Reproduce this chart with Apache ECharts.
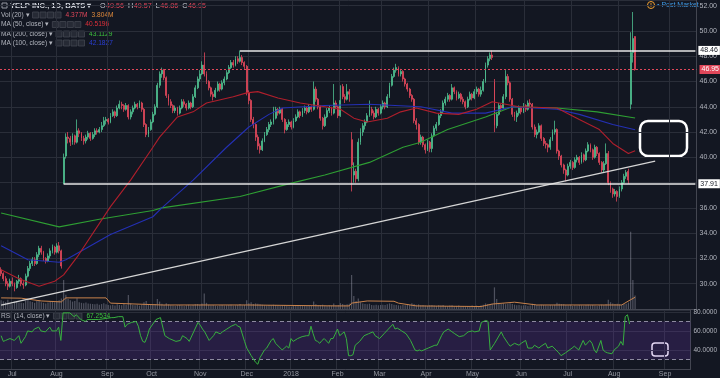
<!DOCTYPE html>
<html>
<head>
<meta charset="utf-8">
<script src="https://cdn.jsdelivr.net/npm/echarts@6/dist/echarts.min.js"></script>
<style>
html, body { margin: 0; padding: 0; background: #131722; }
#chart { width: 720px; height: 378px; }
</style>
</head>
<body>
<div id="chart"></div>
<script>
// daily candles, one row per trading day from 2017-06-26: [open, close, low, high]
const candles = [
  [31.1,30.8,30.6,31.3],[30.8,30.4,30.2,30.9],[30.4,30.0,29.8,30.6],[30.0,29.8,29.5,30.2],[29.8,30.2,29.7,30.4],
  [30.2,30.0,29.8,30.5],[30.0,29.7,29.4,30.1],[29.7,30.2,29.6,30.3],[30.2,30.4,30.0,30.7],[30.4,30.0,29.8,30.5],
  [30.0,29.9,29.6,30.2],[29.9,30.6,29.8,30.8],[30.6,31.2,30.5,31.4],[31.2,31.6,31.0,31.8],[31.6,31.9,31.4,32.1],
  [31.9,31.6,31.4,32.1],[31.6,32.3,31.5,32.5],[32.3,32.8,32.1,33.0],[32.8,32.5,32.3,33.0],[32.5,32.0,31.8,32.6],
  [32.0,31.8,31.6,32.1],[31.8,32.2,31.7,32.4],[32.2,32.6,32.0,32.8],[32.6,32.9,32.4,33.1],[32.9,32.5,32.3,33.0],
  [32.5,33.0,32.4,33.2],[33.0,32.6,32.4,33.3],[32.6,31.4,31.2,32.7],[37.91,40.0,37.91,40.3],[40.1,41.6,39.9,41.9],
  [41.6,41.5,41.1,42.0],[41.5,41.2,40.9,41.7],[41.2,41.7,41.0,41.9],[41.7,41.2,41.0,41.8],[41.2,42.1,41.1,43.0],
  [42.1,41.9,41.6,42.3],[41.9,41.5,41.3,42.0],[41.5,41.3,41.0,41.7],[41.3,41.6,41.1,41.8],[41.6,41.9,41.4,42.1],
  [41.9,41.5,41.3,42.0],[41.5,41.8,41.4,42.0],[41.8,42.1,41.6,42.3],[42.1,42.0,41.8,42.3],[42.0,42.2,41.9,42.4],
  [42.2,42.5,42.0,42.8],[42.5,42.9,42.4,43.2],[42.9,43.0,42.6,43.2],[43.0,42.8,42.6,43.1],[42.8,43.3,42.7,43.5],
  [43.3,43.6,43.2,43.8],[43.6,43.3,43.1,43.7],[43.3,43.9,43.2,44.1],[43.9,44.2,43.8,44.5],[44.2,44.1,43.8,44.4],
  [44.1,43.8,43.6,44.2],[43.8,44.1,43.7,44.3],[44.1,43.2,43.0,44.2],[43.2,43.6,43.0,43.8],[43.6,43.9,43.4,44.1],
  [43.9,44.2,43.8,44.4],[44.2,44.0,43.8,44.3],[44.0,44.3,43.9,44.5],[44.3,43.8,43.6,44.4],[43.8,42.6,42.4,43.9],
  [42.6,41.8,41.6,42.7],[41.8,42.2,41.6,42.4],[42.2,42.8,42.1,43.0],[42.8,43.4,42.7,43.6],[43.4,44.0,43.3,44.2],
  [44.0,45.7,43.9,45.9],[45.7,46.6,45.5,46.8],[46.6,46.9,46.3,47.1],[46.9,46.3,46.1,47.0],[46.3,44.9,44.7,46.4],
  [44.9,44.4,44.1,45.0],[44.4,44.1,43.9,44.6],[44.1,43.7,43.5,44.2],[43.7,43.9,43.5,44.1],[43.9,43.5,43.3,44.0],
  [43.5,43.9,43.4,44.1],[43.9,44.4,43.8,44.6],[44.4,44.2,44.0,44.6],[44.2,43.9,43.7,44.3],[43.9,44.3,43.8,44.5],
  [44.3,44.0,43.8,44.4],[44.0,44.8,43.9,45.0],[44.8,45.5,44.7,45.7],[45.5,46.2,45.4,46.4],[46.2,46.6,46.0,46.9],
  [46.6,47.3,46.5,47.6],[47.3,46.6,46.4,48.3],[46.6,46.0,45.8,46.8],[46.0,45.5,45.3,46.1],[45.5,45.0,44.8,45.6],
  [45.0,44.8,44.5,45.2],[44.8,45.3,44.7,45.5],[45.3,45.8,45.2,46.0],[45.8,45.4,45.2,45.9],[45.4,45.9,45.3,46.1],
  [45.9,46.2,45.7,46.4],[46.2,46.7,46.1,46.9],[46.7,47.1,46.6,47.3],[47.1,47.5,47.0,47.7],[47.5,47.3,47.1,47.7],
  [47.3,47.8,47.2,48.0],[47.8,47.6,47.4,48.0],[47.6,47.9,47.5,48.46],[47.9,47.5,47.3,48.1],[47.5,47.2,47.0,47.6],
  [47.2,45.1,44.9,47.3],[45.1,44.5,44.2,45.3],[44.5,43.0,42.8,44.6],[43.0,42.6,42.3,43.2],[42.6,41.6,41.3,42.7],
  [41.6,40.9,40.6,41.8],[40.9,40.6,40.3,41.1],[40.6,41.3,40.5,41.5],[41.3,41.8,41.2,42.0],[41.8,42.2,41.7,42.4],
  [42.2,42.6,42.0,42.8],[42.6,42.8,42.4,43.0],[42.8,43.1,42.6,44.0],[43.1,43.8,43.0,44.0],[43.8,43.5,43.3,43.9],
  [43.5,43.8,43.4,44.0],[43.8,43.0,42.8,43.9],[43.0,42.2,41.9,43.1],[42.2,42.6,42.1,42.8],[42.6,42.8,42.4,43.0],
  [42.8,42.4,42.2,42.9],[42.4,42.9,42.3,43.1],[42.9,43.2,42.8,43.4],[43.2,43.6,43.1,43.8],[43.6,43.3,43.1,43.7],
  [43.3,43.7,43.2,43.9],[43.7,43.9,43.5,44.1],[43.9,43.6,43.4,44.0],[43.6,44.0,43.5,44.2],[44.0,43.8,43.6,44.1],
  [43.8,45.4,43.7,46.0],[45.4,44.6,44.4,45.6],[44.6,44.0,43.8,44.7],[44.0,43.1,42.9,44.1],[43.1,42.5,42.2,43.2],
  [42.5,43.2,42.4,43.4],[43.2,43.7,43.1,43.9],[43.7,43.9,43.5,44.1],[43.9,43.5,43.3,44.0],[43.5,44.3,43.4,45.8],
  [44.3,44.0,43.8,44.5],[44.0,43.3,43.1,44.1],[43.3,44.5,43.2,45.7],[45.6,44.8,44.6,45.8],[44.8,44.6,44.3,45.0],
  [44.6,45.2,44.5,45.8],[45.2,45.0,44.4,45.4],[41.4,39.4,37.3,42.0],[38.6,38.9,38.0,39.6],[38.9,38.3,38.0,39.1],
  [38.3,41.2,38.1,41.5],[41.2,42.0,41.0,42.3],[42.0,42.5,41.7,42.7],[42.5,42.8,42.2,43.0],[42.8,43.3,42.7,43.5],
  [43.3,43.8,43.2,44.5],[43.8,43.5,43.3,44.0],[43.5,43.2,43.0,43.7],[43.2,43.8,43.1,44.0],[43.8,43.5,43.3,43.9],
  [43.5,44.0,43.4,44.2],[44.0,44.3,43.8,44.5],[44.3,44.0,43.8,44.4],[44.0,44.8,43.9,45.0],[44.8,45.7,44.7,45.9],
  [45.7,46.4,45.6,46.6],[46.4,46.9,46.3,47.1],[46.9,47.1,46.7,47.4],[47.1,46.6,46.4,47.2],[46.6,46.8,46.4,47.0],
  [46.8,46.2,46.0,46.9],[46.2,45.8,45.6,46.3],[45.8,45.4,45.2,45.9],[45.4,44.9,44.7,45.5],[44.9,44.6,44.4,45.0],
  [44.6,42.9,42.7,44.7],[42.9,42.6,42.2,43.1],[42.6,41.2,41.0,42.7],[41.2,41.6,41.0,41.8],[41.6,41.0,40.8,41.7],
  [41.0,40.6,40.3,41.1],[40.6,41.2,40.5,41.4],[41.2,40.7,40.4,41.3],[40.7,41.7,40.4,41.9],[41.7,42.3,41.6,42.5],
  [42.3,42.6,42.1,42.8],[42.6,43.3,42.5,43.5],[43.3,43.6,43.1,43.8],[43.6,44.3,43.5,44.5],[44.3,44.6,44.1,44.8],
  [44.6,44.9,44.4,45.1],[44.9,44.6,44.4,45.0],[44.6,45.5,44.5,45.8],[45.5,45.2,45.0,45.6],[45.2,44.7,44.5,45.3],
  [44.7,45.0,44.6,45.2],[45.0,44.6,44.4,45.1],[44.6,44.4,44.2,44.8],[44.4,44.0,43.8,44.5],[44.0,44.6,43.9,44.8],
  [44.6,45.0,44.5,45.2],[45.0,44.7,44.5,45.1],[44.7,45.2,44.6,45.4],[45.2,45.4,45.0,45.6],[45.4,45.0,44.8,45.5],
  [45.0,45.3,44.8,45.6],[45.3,46.0,45.2,46.2],[46.0,47.3,45.9,47.5],[47.3,47.8,47.1,48.0],[47.8,48.1,47.6,48.3],
  [48.1,47.9,47.7,48.45],[46.0,42.5,42.0,46.2],[42.5,43.4,42.3,43.6],[43.4,44.1,43.3,44.3],[44.1,43.9,43.6,44.2],
  [43.9,44.8,43.8,45.0],[44.8,46.4,44.6,46.9],[46.4,45.9,45.7,46.6],[45.9,44.6,44.4,46.0],[44.6,43.4,43.2,44.7],
  [43.4,43.2,42.9,43.6],[43.2,43.5,42.8,43.7],[43.5,43.9,43.3,44.1],[43.9,43.6,43.4,44.0],[43.6,44.1,43.5,44.3],
  [44.1,43.8,43.6,44.2],[43.8,44.3,43.7,44.5],[44.3,44.2,43.9,44.6],[44.2,42.4,42.2,44.3],[42.4,41.8,41.6,42.6],
  [41.8,42.0,41.5,42.2],[42.0,42.5,41.9,42.7],[42.5,41.5,41.3,42.6],[41.5,41.1,40.9,41.6],[41.1,41.0,40.7,41.3],
  [41.0,40.8,40.4,41.1],[40.8,41.4,40.6,41.6],[41.4,42.0,41.3,42.2],[42.0,42.2,41.8,42.9],[42.2,40.5,40.3,42.3],
  [40.5,40.1,39.8,40.6],[40.1,39.4,39.2,40.2],[39.4,39.0,38.7,39.5],[39.0,38.6,38.1,39.1],[38.6,39.3,38.5,39.5],
  [39.3,39.6,39.1,39.8],[39.6,39.2,39.0,39.7],[39.2,39.8,39.1,40.0],[39.8,40.0,39.6,40.2],[40.0,39.6,39.4,40.1],
  [39.6,40.2,39.5,40.4],[40.2,39.8,39.6,40.3],[39.8,40.5,39.7,40.7],[40.5,41.0,40.4,41.2],[41.0,40.6,40.4,41.1],
  [40.6,40.0,39.8,40.7],[40.0,40.8,39.9,41.0],[40.8,40.3,40.1,40.9],[40.3,39.6,39.4,40.4],[39.6,39.0,38.8,39.7],
  [39.0,39.5,38.8,39.7],[39.5,40.3,39.4,41.1],[40.3,38.0,37.8,40.5],[38.0,37.5,37.2,38.1],[37.5,37.1,36.8,37.6],
  [37.1,37.3,36.9,37.5],[37.3,36.9,36.5,37.4],[36.9,37.5,36.8,37.7],[37.5,38.0,37.3,38.2],[38.0,38.5,37.9,38.7],
  [38.5,38.8,38.3,39.0],[38.9,38.2,37.9,39.1],[44.2,48.3,43.8,49.9],[48.3,49.4,47.5,51.5],[49.56,46.95,46.86,49.57]
];

// daily volume, millions
const volumes = [
  2.8,2.5,2.2,3.0,1.8,1.5,2.4,2.6,2.1,2.0,1.9,2.7,3.1,2.5,2.3,2.0,2.6,2.9,2.2,2.0,
  1.8,2.1,2.4,2.6,2.2,2.5,2.8,3.4,9.4,4.6,3.2,2.8,2.4,2.6,3.5,2.2,2.0,1.9,2.1,1.8,
  1.7,1.6,1.5,1.7,1.4,1.6,1.9,1.5,1.3,1.2,1.4,1.1,1.5,1.3,1.2,1.6,1.4,4.5,1.8,1.3,
  1.2,1.4,1.1,1.3,2.2,2.6,1.5,1.3,1.4,1.6,3.2,2.4,1.7,1.3,1.9,1.5,1.2,1.1,1.0,1.2,
  1.3,1.1,1.0,1.2,1.4,1.1,1.3,1.5,1.6,1.4,1.8,5.0,2.0,1.4,1.2,1.3,1.1,1.0,1.2,1.3,
  1.1,1.2,1.3,1.4,1.1,1.2,1.3,1.6,1.2,1.3,2.8,1.9,2.2,1.6,1.8,1.7,1.5,1.4,1.2,1.1,
  1.3,1.2,1.4,1.3,1.1,1.0,1.2,1.3,1.0,0.9,0.8,1.1,1.2,1.0,1.3,1.1,1.2,1.0,1.1,1.0,
  2.4,1.5,1.2,1.3,1.4,1.1,1.0,1.2,1.1,1.8,1.2,1.3,1.9,1.6,1.4,1.5,1.7,11.0,4.2,2.6,
  3.4,2.2,1.8,1.6,1.5,1.7,1.3,1.2,1.4,1.2,1.3,1.4,1.3,1.5,1.8,1.6,1.4,1.3,1.2,1.1,
  1.3,1.2,1.4,1.3,1.9,1.6,1.4,1.5,1.2,1.3,1.1,1.0,1.2,1.3,1.1,1.0,1.2,1.1,1.3,1.0,
  0.9,1.1,1.2,0.9,1.0,1.1,0.9,1.0,0.8,1.0,0.9,1.1,1.0,1.1,1.0,1.2,1.4,1.8,1.6,1.5,
  1.7,7.0,3.2,2.0,1.6,1.8,1.5,1.7,1.9,1.6,1.4,1.2,1.3,1.1,1.2,1.2,1.0,1.1,1.7,1.5,
  1.3,1.2,1.4,1.3,1.2,1.1,1.3,1.2,1.4,2.0,1.7,1.6,1.5,1.3,1.2,1.4,1.0,1.2,1.1,1.3,
  1.2,1.1,1.3,1.4,1.2,1.3,1.1,1.0,1.2,1.4,1.3,1.5,3.0,2.2,1.8,1.6,1.7,1.5,1.4,1.6,
  1.7,2.1,25.0,9.4,4.377
];

// moving averages: [day index, value]
const ma50 = [[0,31.1],[8,30.4],[17,29.8],[24,30.2],[28,30.7],[34,32.1],[49,36.1],[58,38.2],[68,40.8],[71,41.6],[79,43.2],[86,43.6],[92,44.3],[104,44.8],[110,45.1],[115,45.2],[124,44.7],[134,44.3],[145,44.0],[152,43.8],[158,43.1],[164,42.8],[173,43.1],[179,43.6],[186,43.9],[195,43.5],[205,43.4],[213,43.8],[220,44.4],[232,44.0],[249,43.9],[259,43.0],[268,42.2],[274,41.1],[281,40.3],[284,40.52]];
const ma100 = [[0,33.0],[12,31.9],[26,31.7],[29,31.9],[49,33.9],[68,35.3],[72,36.0],[86,38.2],[101,40.8],[111,42.4],[120,43.4],[126,43.9],[145,44.1],[165,44.2],[188,44.0],[202,43.5],[217,43.5],[229,44.0],[249,43.8],[259,43.4],[274,42.6],[284,42.18]];
const ma200 = [[0,35.6],[26,34.5],[44,35.1],[68,35.8],[72,36.0],[107,36.9],[131,38.0],[145,38.6],[165,39.6],[180,40.8],[188,41.2],[200,42.2],[217,43.2],[229,44.0],[249,43.9],[267,43.6],[284,43.11]];
const volMa = [[0,3.6],[9,3.5],[18,2.6],[27,2.3],[29,3.6],[47,3.6],[49,1.9],[72,1.3],[110,1.3],[150,1.0],[156,1.0],[157,1.9],[164,2.6],[176,2.5],[178,1.9],[186,1.0],[215,0.8],[220,1.6],[230,2.2],[240,1.3],[278,1.3],[282,3.0],[284,3.8]];
const trendLine = [[0,28.3],[293,39.7]];

const rsi = [[0,55],[1,49],[2,50],[4,52],[6,50],[8,55],[9,47],[11,54],[12,60],[14,59],[15,62],[17,64],[18,60],[20,59],[22,64],[23,60],[25,60],[26,64],[27,50],[28,79],[31,79],[33,75],[34,77],[36,72],[38,70],[39,72],[41,72],[44,72],[47,73],[50,74],[51,74],[53,75],[55,75],[56,64],[57,67],[59,69],[61,70],[62,65],[63,55],[64,49],[65,48],[66,54],[67,62],[70,72],[72,74],[74,55],[76,52],[79,49],[81,50],[82,55],[84,52],[85,49],[87,59],[89,69],[90,66],[91,62],[92,59],[94,50],[96,55],[97,59],[99,57],[100,59],[102,62],[104,65],[106,67],[107,65],[108,64],[110,49],[111,42],[113,34],[115,27],[116,25],[117,32],[119,40],[120,42],[122,50],[123,52],[124,47],[127,40],[128,42],[129,44],[130,42],[131,52],[132,49],[134,52],[136,54],[138,55],[139,55],[140,65],[141,57],[142,50],[143,49],[144,47],[145,50],[146,52],[148,47],[149,52],[150,52],[152,62],[153,55],[155,59],[156,52],[157,34],[158,34],[159,35],[160,45],[162,49],[164,55],[166,57],[168,59],[169,55],[171,52],[173,57],[175,62],[177,67],[178,62],[179,63],[181,60],[183,57],[185,50],[187,40],[188,39],[189,40],[190,39],[191,40],[193,42],[196,45],[197,45],[199,55],[200,59],[202,62],[205,57],[207,54],[209,55],[211,59],[213,60],[214,59],[216,60],[217,69],[219,71],[220,70],[221,40],[223,47],[226,59],[227,54],[229,47],[230,44],[232,47],[234,45],[235,47],[237,50],[238,42],[240,42],[241,45],[243,42],[244,44],[246,47],[247,42],[249,44],[252,37],[253,34],[255,37],[258,42],[259,44],[261,40],[263,50],[264,45],[266,50],[267,47],[268,40],[269,37],[271,50],[272,40],[273,38],[274,37],[276,36],[277,40],[279,44],[280,49],[281,45],[282,75],[283,77],[284,67.25]];

const priceLevels = { high: 48.46, low: 37.91, last: 46.95 };
const ohlc = [['O', '49.56'], ['H', '49.57'], ['L', '46.86'], ['C', '46.95']];
const holidays = ['2017-07-04','2017-09-04','2017-11-23','2017-12-25','2018-01-01','2018-01-15','2018-02-19','2018-03-30','2018-05-28','2018-07-04','2018-09-03'];
const monthNames = ['2018','Feb','Mar','Apr','May','Jun','Jul','Aug','Sep','Oct','Nov','Dec'];
const totalDays = 312; // includes empty space to the right

// trading days (weekdays minus exchange holidays)
const days = [];
let d = new Date(Date.UTC(2017, 5, 26));
while (days.length < totalDays) {
  const s = d.toISOString().slice(0, 10);
  const wd = d.getUTCDay();
  if (wd !== 0 && wd !== 6 && holidays.indexOf(s) < 0) days.push(s);
  d.setUTCDate(d.getUTCDate() + 1);
}
const monthStart = days.map((s, i) => i > 0 && s.slice(5, 7) !== days[i - 1].slice(5, 7));
monthStart[0] = false;

const font = 'Liberation Sans, Arial, sans-serif';
const gridColor = '#2a2e39';
const up = '#4fbf8f', down = '#e0475a';

const measureCtx = document.createElement('canvas').getContext('2d');
function fontStr(size, weight) { return (weight || 'normal') + ' ' + size + 'px ' + font; }
function textWidth(text, size, weight) { measureCtx.font = fontStr(size, weight); return measureCtx.measureText(text).width; }

function label(text, x, y, color, size, weight) {
  return {
    type: 'text', x: x, y: y, silent: true,
    style: { text: text, fill: color, font: fontStr(size || 7, weight), textVerticalAlign: 'middle', verticalAlign: 'middle' }
  };
}
function boxes(x, y) {
  const out = [];
  for (let k = 0; k < 4; k++) {
    out.push({ type: 'rect', silent: true, shape: { x: x + k * 7.5, y: y - 3, width: 6, height: 6 },
      style: { fill: '#262a35', stroke: '#434651', lineWidth: 0.8 } });
  }
  return out;
}
// indicator legend row: name, four small buttons, then coloured values
function legendRow(name, y, values) {
  const size = 6.6;
  const out = [label(name, 1, y, '#b2b5be', size)];
  let x = 1 + textWidth(name, size) + 3;
  out.push.apply(out, boxes(x, y));
  x += 4 * 7.5 + 3;
  values.forEach((v) => {
    out.push(label(v[0], x, y, v[1], size));
    x += textWidth(v[0], size) + 4;
  });
  return out;
}
// symbol title and OHLC read-out
function titleRow() {
  const out = [
    { type: 'rect', silent: true, shape: { x: 2, y: 3, width: 5, height: 5 }, style: { fill: 'none', stroke: '#9598a1', lineWidth: 1 } },
    label('YELP INC., 1D, BATS \u25BE', 10, 6, '#d1d4dc', 7.6, 'bold')
  ];
  let x = 100;
  ohlc.forEach((p) => {
    out.push(label(p[0], x, 6, '#d1d4dc', 7.2));
    x += textWidth(p[0], 7.2) + 0.5;
    out.push(label(p[1], x, 6, down, 7.2));
    x += textWidth(p[1], 7.2) + 4;
  });
  return out;
}

const graphics = [].concat(
  titleRow(),
  [
    { type: 'circle', silent: true, shape: { cx: 651, cy: 5, r: 3.5 }, style: { fill: 'none', stroke: '#f0a030', lineWidth: 1 } },
    label('!', 650, 5.5, '#f0a030', 6, 'bold'),
    label('\u2022 Post Market', 657, 5.5, '#3f9be6', 7),
    { type: 'rect', silent: true, shape: { x: 640, y: 121, width: 47, height: 35, r: 8 }, style: { fill: 'none', stroke: '#ffffff', lineWidth: 2.5 } },
    { type: 'rect', silent: true, shape: { x: 652, y: 343, width: 16, height: 13, r: 3 }, style: { fill: 'none', stroke: '#ffffff', lineWidth: 1.5 } }
  ],
  legendRow('Vol (20) \u25BE', 15, [['4.377M', down], ['3.804M', '#e08a3c']]),
  legendRow('MA (50, close) \u25BE', 24.5, [['40.5196', '#e0303a']]),
  legendRow('MA (200, close) \u25BE', 34, [['43.1129', '#3ec23e']]),
  legendRow('MA (100, close) \u25BE', 43, [['42.1827', '#2b3fd6']]),
  legendRow('RSI (14, close) \u25BE', 316, [['67.2534', '#3ec23e']])
);

function levelLine(startIdx, value, color, bg, fg, type, width) {
  const lbl = { show: true, position: 'end', formatter: value.toFixed(2), backgroundColor: bg, color: fg,
    fontSize: 7, fontFamily: font, padding: [1, 2, 1, 2], distance: 3 };
  if (startIdx === null) {
    return { yAxis: value, lineStyle: { color: color, type: type, width: width }, label: lbl };
  }
  return [
    { coord: [startIdx, value], lineStyle: { color: color, type: type, width: width }, label: lbl },
    { coord: [totalDays - 1, value] }
  ];
}

const xBase = {
  type: 'category', data: days, boundaryGap: true,
  axisTick: { show: false },
  splitLine: { show: true, interval: (i) => monthStart[i], lineStyle: { color: gridColor, width: 1 } }
};

const chart = echarts.init(document.getElementById('chart'), null, { renderer: 'canvas' });
chart.setOption({
  backgroundColor: '#131722',
  animation: false,
  graphic: graphics,
  grid: [
    { left: 0, right: 23, top: 0, bottom: 69 },
    { left: 0, right: 23, top: 310, bottom: 7 }
  ],
  xAxis: [
    Object.assign({}, xBase, { gridIndex: 0, axisLabel: { show: false },
      axisLine: { show: true, lineStyle: { color: '#434651' } } }),
    Object.assign({}, xBase, { gridIndex: 1,
      axisLine: { show: true, lineStyle: { color: '#434651' } },
      axisLabel: { interval: (i) => monthStart[i], color: '#9598a1', fontSize: 7, fontFamily: font, margin: 2,
        formatter: (v) => monthNames[parseInt(v.slice(5, 7), 10) - 1] } })
  ],
  yAxis: [
    { gridIndex: 0, type: 'value', position: 'right', min: 28, max: 52.45, interval: 2,
      axisLine: { show: true, lineStyle: { color: '#434651' } }, axisTick: { show: false },
      splitLine: { lineStyle: { color: gridColor } },
      axisLabel: { color: '#b2b5be', fontSize: 7, fontFamily: font, margin: 3,
        formatter: (v) => (v >= 30 && v <= 52 && Math.abs(v % 2) < 1e-6) ? v.toFixed(2) : '' } },
    { gridIndex: 0, type: 'value', min: 0, max: 100, show: false },
    { gridIndex: 1, type: 'value', position: 'right', min: 20, max: 82, interval: 20,
      axisLine: { show: true, lineStyle: { color: '#434651' } }, axisTick: { show: false },
      splitLine: { lineStyle: { color: gridColor } },
      axisLabel: { color: '#b2b5be', fontSize: 6.5, fontFamily: font, margin: 3,
        formatter: (v) => (v === 40 || v === 60 || v === 80) ? v.toFixed(4) : '' } }
  ],
  series: [
    {
      name: 'Vol', type: 'bar', xAxisIndex: 0, yAxisIndex: 1, data: volumes, barWidth: '55%',
      itemStyle: { color: 'rgba(190,190,205,0.35)' }, silent: true
    },
    {
      name: 'Vol MA', type: 'line', xAxisIndex: 0, yAxisIndex: 1, data: volMa, symbol: 'none',
      lineStyle: { color: '#c9834c', width: 1 }, silent: true
    },
    {
      name: 'Trend', type: 'line', xAxisIndex: 0, yAxisIndex: 0, data: trendLine, symbol: 'none',
      lineStyle: { color: '#d6d6d6', width: 1.2 }, silent: true
    },
    {
      name: 'MA 200', type: 'line', data: ma200, symbol: 'none', lineStyle: { color: '#2e9e33', width: 1.1 }, silent: true
    },
    {
      name: 'MA 100', type: 'line', data: ma100, symbol: 'none', lineStyle: { color: '#2430b4', width: 1.1 }, silent: true
    },
    {
      name: 'MA 50', type: 'line', data: ma50, symbol: 'none', lineStyle: { color: '#b01f2c', width: 1.1 }, silent: true
    },
    {
      name: 'YELP', type: 'candlestick', xAxisIndex: 0, yAxisIndex: 0, data: candles, barWidth: '62%',
      itemStyle: { color: up, color0: down, borderColor: up, borderColor0: down, borderWidth: 0.8 },
      markLine: {
        silent: true, symbol: ['none', 'none'], animation: false,
        data: [
          levelLine(null, priceLevels.last, down, down, '#ffffff', [2, 2], 1),
          levelLine(107, priceLevels.high, '#e6e6e6', '#ffffff', '#131722', 'solid', 1.5),
          levelLine(28, priceLevels.low, '#e6e6e6', '#ffffff', '#131722', 'solid', 1.5)
        ]
      }
    },
    {
      name: 'RSI', type: 'line', xAxisIndex: 1, yAxisIndex: 2, data: rsi, symbol: 'none',
      lineStyle: { color: '#37b03f', width: 1 }, silent: true, z: 5,
      markArea: { silent: true, itemStyle: { color: 'rgba(120,60,200,0.2)' }, data: [[{ yAxis: 30 }, { yAxis: 70 }]] },
      markLine: { silent: true, symbol: ['none', 'none'], label: { show: false },
        lineStyle: { color: '#8d8aa0', type: [4, 3], width: 1 },
        data: [{ yAxis: 70 }, { yAxis: 30 }] }
    }
  ]
});
</script>
</body>
</html>
